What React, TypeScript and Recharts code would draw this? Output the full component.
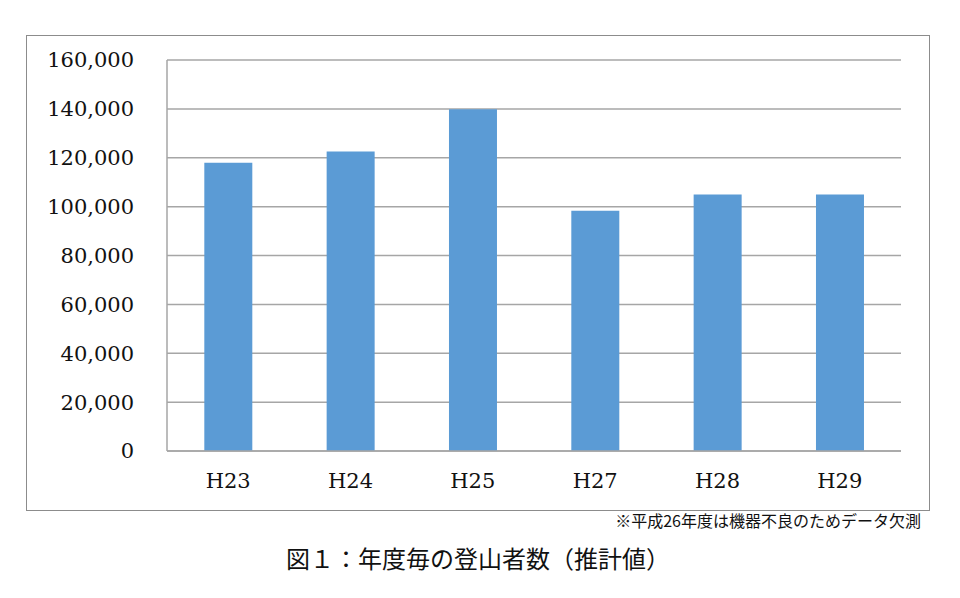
import React from "react";
import { BarChart, Bar, XAxis, YAxis, CartesianGrid } from "recharts";

const categories = ["H23", "H24", "H25", "H27", "H28", "H29"];
const climbers = [118000, 122600, 139800, 98300, 105000, 105000];
const yTicks = [0, 20000, 40000, 60000, 80000, 100000, 120000, 140000, 160000];
const footnote = "※平成26年度は機器不良のためデータ欠測";
const title = "図１：年度毎の登山者数（推計値）";

const data = categories.map((c, i) => ({ name: c, value: climbers[i] }));

const serif = "'DejaVu Serif', 'Liberation Serif', serif";
const gothic = "'Noto Sans CJK JP', 'Noto Sans', sans-serif";

export default function App() {
  return (
    <div style={{ position: "absolute", left: 0, top: 0, width: 960, height: 598, background: "#fff" }}>
      <div
        style={{
          position: "absolute",
          left: 26,
          top: 35,
          width: 904,
          height: 476,
          boxSizing: "border-box",
          border: "1px solid #8c8c8c",
        }}
      />
      <div style={{ position: "absolute", left: 0, top: 0 }}>
        <BarChart
          width={960}
          height={520}
          data={data}
          margin={{ top: 60, right: 59, bottom: 29, left: 0 }}
          barCategoryGap="30.5%"
        >
          <CartesianGrid vertical={false} stroke="#a6a6a6" strokeWidth={1.5} />
          <XAxis
            dataKey="name"
            height={40}
            tickSize={0}
            tickMargin={22}
            axisLine={{ stroke: "#a6a6a6", strokeWidth: 1.5 }}
            tickLine={false}
            tick={{ fill: "#111", fontSize: 21, fontFamily: serif }}
          />
          <YAxis
            width={167}
            domain={[0, 160000]}
            ticks={yTicks}
            interval={0}
            tickSize={0}
            tickMargin={33}
            axisLine={{ stroke: "#a6a6a6", strokeWidth: 1.5 }}
            tickLine={false}
            tickFormatter={(v: number) => v.toLocaleString("en-US")}
            tick={{ fill: "#111", fontSize: 21, fontFamily: serif }}
          />
          <Bar dataKey="value" fill="#5b9bd5" isAnimationActive={false} />
        </BarChart>
      </div>
      <div
        style={{
          position: "absolute",
          right: 39,
          top: 510,
          fontFamily: gothic,
          fontSize: 16,
          color: "#111",
          whiteSpace: "nowrap",
          lineHeight: "20px",
        }}
      >
        {footnote}
      </div>
      <div
        style={{
          position: "absolute",
          left: 0,
          width: 960,
          top: 543,
          textAlign: "center",
          fontFamily: gothic,
          fontSize: 24,
          fontWeight: 400,
          color: "#111",
          lineHeight: "30px",
          boxSizing: "border-box",
        }}
      >
        <span style={{ position: "relative", left: -2 }}>{title}</span>
      </div>
    </div>
  );
}
